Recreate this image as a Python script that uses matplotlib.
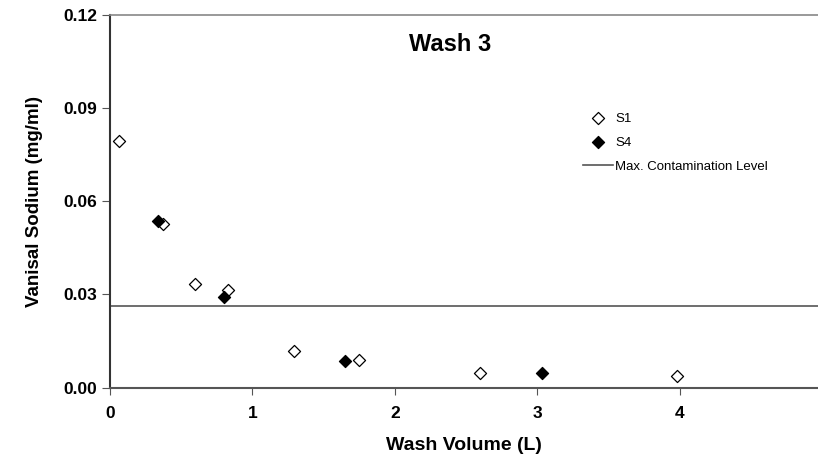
import matplotlib
matplotlib.use("Agg")
import matplotlib.pyplot as plt

# S1 (open diamonds)
s1_vol = [0.06, 0.37, 0.60, 0.83, 1.29, 1.75, 2.60, 3.98]
s1_na = [0.0793, 0.0526, 0.0334, 0.0314, 0.0118, 0.0089, 0.0048, 0.0039]

# S4 (filled diamonds)
s4_vol = [0.34, 0.80, 1.65, 3.03]
s4_na = [0.0538, 0.0291, 0.0087, 0.0046]

mcl = 0.0264
yticks = [0.0, 0.03, 0.06, 0.09, 0.12]
xticks = [0, 1, 2, 3, 4]

plt.rcParams['font.family'] = "sans-serif"
plt.rcParams['font.sans-serif'] = ["Liberation Sans", "DejaVu Sans"]

fig = plt.figure(figsize=(8.18, 4.55), dpi=100)
ax = fig.add_axes([0.1345, 0.148, 0.8655, 0.819])

ax.scatter(s1_vol, s1_na, marker="D", s=38, facecolor="white",
           edgecolor="black", linewidth=0.9, label="S1", zorder=3)
ax.scatter(s4_vol, s4_na, marker="D", s=38, facecolor="black",
           edgecolor="black", linewidth=0.9, label="S4", zorder=3)
ax.axhline(mcl, color="#555555", linewidth=1.2,
           label="Max. Contamination Level")

ax.set_xlim(0, 4.97)
ax.set_ylim(0, 0.12)
ax.set_xticks(xticks)
ax.set_yticks(yticks)
ax.set_yticklabels(["%.2f" % v for v in yticks])

for lab in ax.get_xticklabels() + ax.get_yticklabels():
    lab.set_fontweight("bold")
    lab.set_fontsize(12.5)

ax.tick_params(axis="x", direction="out", length=5, pad=8, color="#555555")
ax.tick_params(axis="y", direction="out", length=6, pad=3, color="#555555")

ax.spines['right'].set_visible(False)
ax.spines['top'].set_color("#888888")
ax.spines['top'].set_linewidth(1.2)
ax.spines['left'].set_color("#333333")
ax.spines['left'].set_linewidth(1.5)
ax.spines['bottom'].set_color("#555555")
ax.spines['bottom'].set_linewidth(1.5)

ax.set_xlabel("Wash Volume (L)", fontsize=14, fontweight="bold", labelpad=12)
ax.set_ylabel("Vanisal Sodium (mg/ml)", fontsize=13.5, fontweight="bold",
              labelpad=15)
ax.text(0.48, 0.92, "Wash 3", transform=ax.transAxes, ha="center",
        va="center", fontsize=17, fontweight="bold")

ax.legend(loc="upper left", bbox_to_anchor=(0.652, 0.77), frameon=False,
          fontsize=9.5, handlelength=2.2, handletextpad=0.2, labelspacing=0.9,
          scatterpoints=1)

fig.savefig("out.png", dpi=100)
